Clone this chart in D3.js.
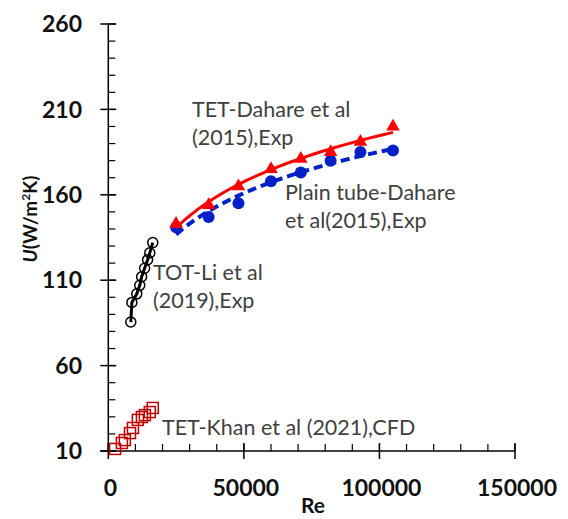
<!DOCTYPE html>
<html>
<head>
<meta charset="utf-8">
<script src="https://cdn.jsdelivr.net/npm/d3@7"></script>
<style>
  html, body { margin: 0; padding: 0; background: #fff; }
  svg { display: block; }
  text { font-family: Lato, "Open Sans", sans-serif; }
</style>
</head>
<body>
<svg id="chart" width="568" height="519"></svg>
<script>
// Overall heat transfer coefficient U versus Reynolds number

// TET - Dahare et al (2015), experimental
const dahareTetRe = [25000, 37000, 48000, 60000, 71000, 82000, 93000, 105000];
const dahareTetU  = [143, 154, 165, 175, 181, 185, 191, 200];

// Plain tube - Dahare et al (2015), experimental
const dahulePlainRe = [25000, 37000, 48000, 60000, 71000, 82000, 93000, 105000];
const dahulePlainU  = [141, 147, 155, 168, 173, 180, 185, 186];

// TOT - Li et al (2019), experimental
const liTotRe = [8300, 8700, 10500, 11600, 12300, 13400, 14500, 15300, 16400];
const liTotU  = [85.5, 97, 102, 107, 112, 117, 122, 126, 132];

// TET - Khan et al (2021), CFD
const khanTetRe = [2500, 5000, 6100, 8000, 9100, 10900, 12400, 13500, 15300, 16400];
const khanTetU  = [11.2, 14.7, 16.4, 20.5, 23.5, 28.2, 29.9, 31, 32.8, 35.2];

// Axis ticks
const xTicks = [0, 50000, 100000, 150000];
const yTicks = [10, 60, 110, 160, 210, 260];

const svg = d3.select("#chart");

const x = d3.scaleLinear().domain([0, 150000]).range([108.3, 515]);
const y = d3.scaleLinear().domain([10, 260]).range([451, 24]);

// ---- axes ----
const axisG = svg.append("g").attr("stroke", "#000");

// y axis line and ticks
axisG.append("line").attr("x1", x(0)).attr("x2", x(0)).attr("y1", y(260)).attr("y2", y(10)).attr("stroke-width", 1.5);
const yMinor = d3.range(10, 261, 10);
axisG.selectAll(".ymin").data(yMinor).join("line")
  .attr("x1", x(0)).attr("x2", x(0) + 7)
  .attr("y1", d => y(d)).attr("y2", d => y(d)).attr("stroke-width", 1.2);
axisG.selectAll(".ymaj").data(yTicks).join("line")
  .attr("x1", x(0) - 8).attr("x2", x(0) + 8)
  .attr("y1", d => y(d)).attr("y2", d => y(d)).attr("stroke-width", 1.5);

// x axis line and ticks
axisG.append("line").attr("x1", x(0) - 8).attr("x2", x(150000)).attr("y1", y(10)).attr("y2", y(10)).attr("stroke-width", 1.5);
const xMinor = d3.range(0, 150001, 10000);
axisG.selectAll(".xmin").data(xMinor).join("line")
  .attr("x1", d => x(d)).attr("x2", d => x(d))
  .attr("y1", y(10) - 7).attr("y2", y(10)).attr("stroke-width", 1.2);
axisG.selectAll(".xmaj").data(xTicks).join("line")
  .attr("x1", d => x(d)).attr("x2", d => x(d))
  .attr("y1", y(10) - 8).attr("y2", y(10) + 8).attr("stroke-width", 1.5);

// tick labels
svg.selectAll(".ylab").data(yTicks).join("text")
  .attr("x", 82).attr("y", d => y(d)).attr("dy", "0.36em")
  .attr("text-anchor", "end").attr("font-size", 23).attr("font-weight", "bold")
  .attr("fill", "#111").text(d => d);
svg.selectAll(".xlab").data(xTicks).join("text")
  .attr("x", d => x(d) + 2).attr("y", 496)
  .attr("text-anchor", "middle").attr("font-size", 23).attr("font-weight", "bold")
  .attr("fill", "#111").text(d => d);

// axis titles
svg.append("text").attr("x", 313).attr("y", 513).attr("text-anchor", "middle")
  .attr("font-size", 21).attr("font-weight", "bold").attr("fill", "#111").text("Re");
const yt = svg.append("text")
  .attr("transform", "translate(37,219) rotate(-90)")
  .attr("text-anchor", "middle").attr("font-size", 19).attr("font-weight", "bold").attr("fill", "#111");
yt.append("tspan").attr("font-style", "italic").text("U");
yt.append("tspan").text("(W/m");
yt.append("tspan").attr("font-size", 12).attr("dy", -7).text("2");
yt.append("tspan").attr("dy", 7).text("K)");

// ---- logarithmic trendline from least squares ----
function logFit(xs, ys) {
  const lx = xs.map(Math.log);
  const mx = d3.mean(lx), my = d3.mean(ys);
  const b = d3.sum(lx, (v, i) => (v - mx) * (ys[i] - my)) / d3.sum(lx, v => (v - mx) * (v - mx));
  const a = my - b * mx;
  return r => a + b * Math.log(r);
}
function trendPath(xs, ys) {
  const f = logFit(xs, ys);
  const lo = d3.min(xs), hi = d3.max(xs);
  const pts = d3.range(0, 41).map(i => lo + (hi - lo) * i / 40);
  return d3.line().x(d => x(d)).y(d => y(f(d)))(pts);
}

// Plain tube: dashed blue trendline with filled circles
svg.append("path").attr("d", trendPath(dahulePlainRe, dahulePlainU))
  .attr("fill", "none").attr("stroke", "#0020C8").attr("stroke-width", 4)
  .attr("stroke-dasharray", "9,5");
svg.selectAll(".plain").data(dahulePlainRe).join("circle")
  .attr("cx", d => x(d)).attr("cy", (d, i) => y(dahulePlainU[i])).attr("r", 6)
  .attr("fill", "#0020C8");

// TET Dahare: solid red trendline with filled triangles
svg.append("path").attr("d", trendPath(dahareTetRe, dahareTetU))
  .attr("fill", "none").attr("stroke", "#FF0000").attr("stroke-width", 3);
const tri = d3.symbol().type(d3.symbolTriangle).size(80);
svg.selectAll(".tet").data(dahareTetRe).join("path")
  .attr("d", tri)
  .attr("transform", (d, i) => `translate(${x(d)},${y(dahareTetU[i])})`)
  .attr("fill", "#FF0000");

// TOT Li: black line with open circles
const liPts = liTotRe.map((r, i) => [r, liTotU[i]]);
svg.append("path").attr("d", d3.line().x(d => x(d[0])).y(d => y(d[1]))(liPts))
  .attr("fill", "none").attr("stroke", "#000").attr("stroke-width", 3);
svg.selectAll(".li").data(liPts).join("circle")
  .attr("cx", d => x(d[0])).attr("cy", d => y(d[1])).attr("r", 5)
  .attr("fill", "none").attr("stroke", "#000").attr("stroke-width", 1.5);

// TET Khan: open dark-red squares
svg.selectAll(".khan").data(khanTetRe).join("rect")
  .attr("x", d => x(d) - 5.5).attr("y", (d, i) => y(khanTetU[i]) - 5.5)
  .attr("width", 11).attr("height", 11)
  .attr("fill", "none").attr("stroke", "#C00000").attr("stroke-width", 1.5);

// ---- annotations ----
const notes = [
  { x: 192, y: 117, lines: ["TET-Dahare et al", "(2015),Exp"] },
  { x: 285, y: 200, lines: ["Plain tube-Dahare", "et al(2015),Exp"] },
  { x: 153, y: 280, lines: ["TOT-Li et al", "(2019),Exp"] },
  { x: 162, y: 435, lines: ["TET-Khan et al (2021),CFD"] }
];
notes.forEach(n => {
  const t = svg.append("text").attr("x", n.x).attr("y", n.y)
    .attr("font-size", 21.5).attr("fill", "#404040");
  n.lines.forEach((l, i) => t.append("tspan").attr("x", n.x).attr("dy", i === 0 ? 0 : 28).text(l));
});
</script>
</body>
</html>
